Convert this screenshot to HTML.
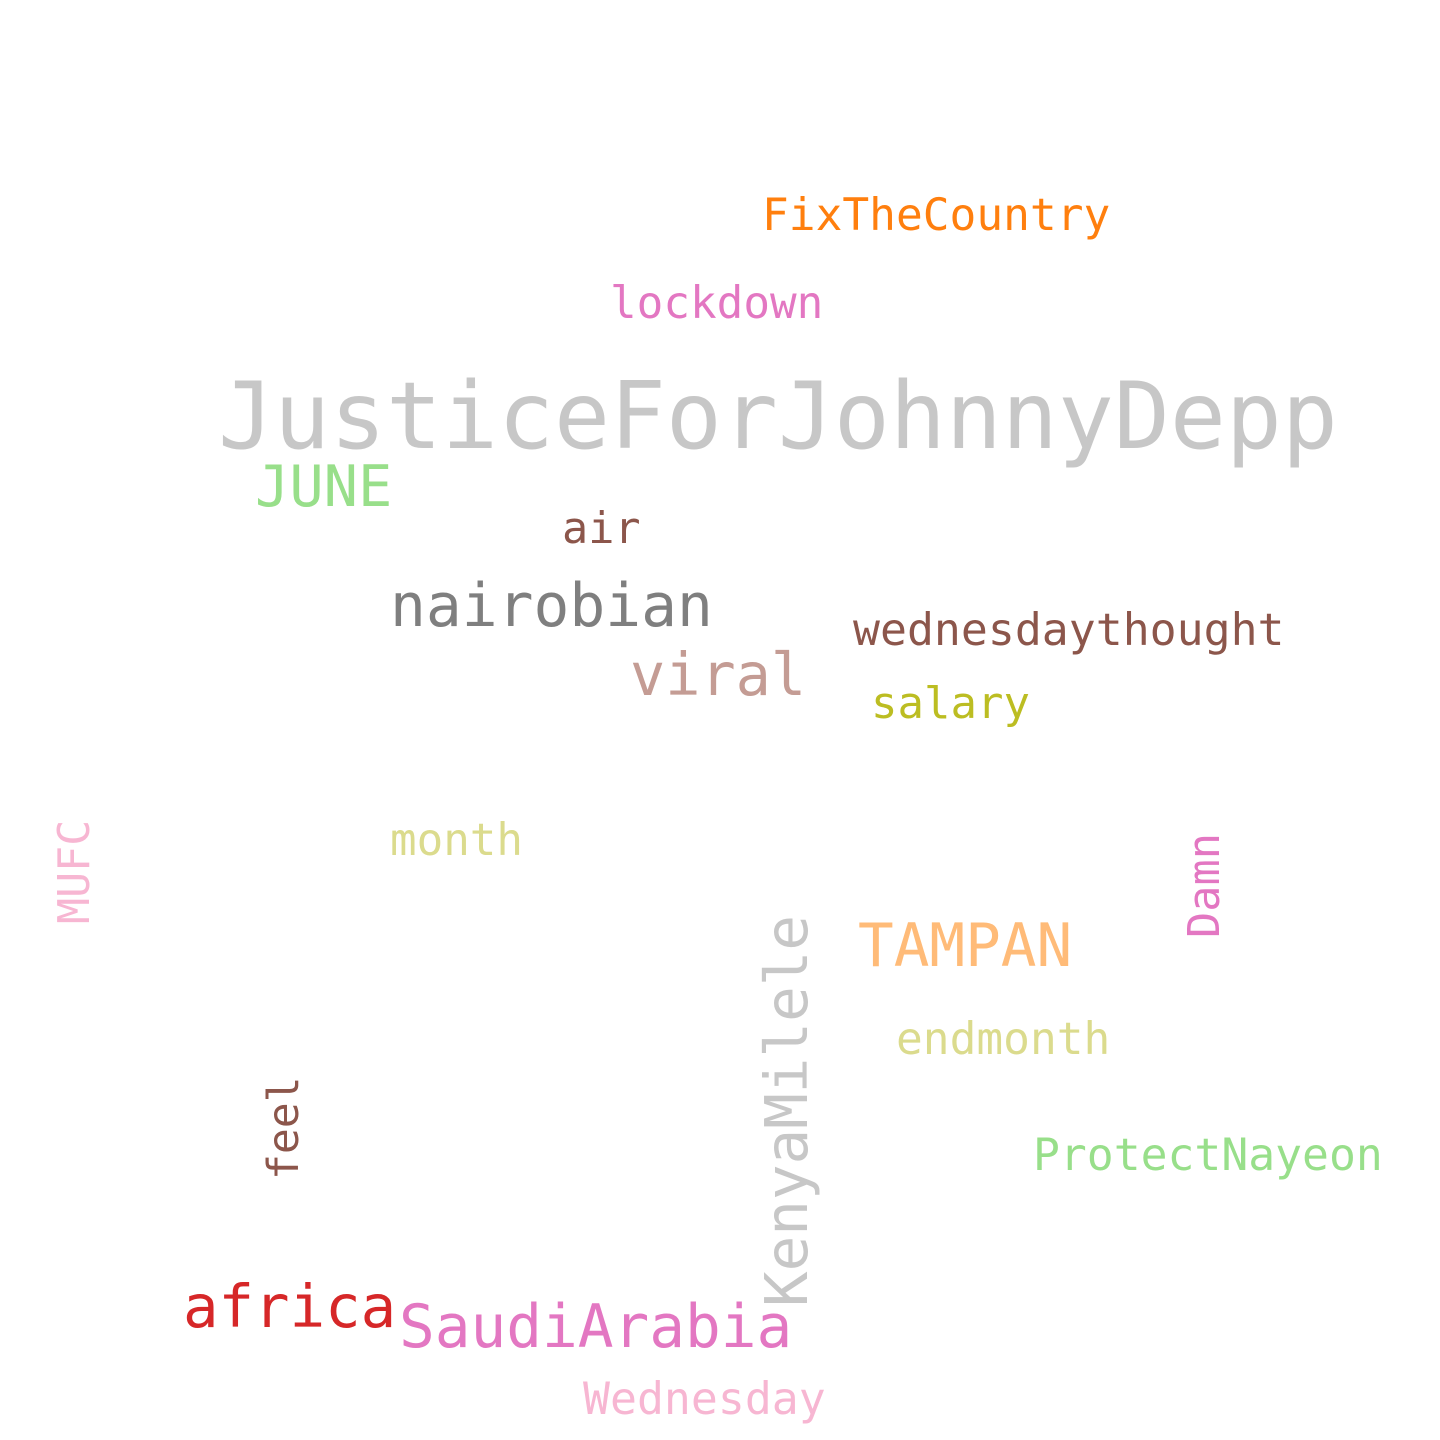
<!DOCTYPE html>
<html>
<head>
<meta charset="utf-8">
<style>
html,body{margin:0;padding:0;background:#fff;}
svg{display:block;}
text{font-family:"DejaVu Sans Mono","Liberation Mono",monospace;}
</style>
</head>
<body>
<svg id="cloud" width="1440" height="1440" viewBox="0 0 1440 1440" xmlns="http://www.w3.org/2000/svg">
<rect width="1440" height="1440" fill="#ffffff"/>
</svg>
<script>
const words = ["JusticeForJohnnyDepp","FixTheCountry","lockdown","JUNE","air","nairobian","wednesdaythought","viral","salary","month","MUFC","Damn","TAMPAN","KenyaMilele","endmonth","feel","ProtectNayeon","africa","SaudiArabia","Wednesday"];
const sizes = [93,44.5,44.3,57,43.5,59.6,44.8,58.5,44,44.2,43.3,43.6,59.3,59.2,44.5,43,44.7,59,59.4,44.8];
const colors = ["#c7c7c7","#ff7f0e","#e377c2","#98df8a","#8c564b","#7f7f7f","#8c564b","#c49c94","#bcbd22","#dbdb8d","#f7b6d2","#e377c2","#ffbb78","#c7c7c7","#dbdb8d","#8c564b","#98df8a","#d62728","#e377c2","#f7b6d2"];
const xs = [218,762,610,255,562,390,853,630,871,390,89,1219,858,807,896,298,1033,183,399,583];
const ys = [448,230,318,506,543,626,645,695,718,855,924,938,966,1307,1054,1180,1170,1327,1347,1414];
const vertical = [0,0,0,0,0,0,0,0,0,0,1,1,0,1,0,1,0,0,0,0];
const svg = document.getElementById('cloud');
const NS = "http://www.w3.org/2000/svg";
for (let i = 0; i < words.length; i++) {
  const t = document.createElementNS(NS, 'text');
  
  
  t.setAttribute('x', xs[i]);
  t.setAttribute('y', ys[i]);
  t.setAttribute('font-size', sizes[i]);
  t.setAttribute('fill', colors[i]);
  if (vertical[i]) t.setAttribute('transform', 'rotate(-90 ' + xs[i] + ' ' + ys[i] + ')');
  t.textContent = words[i];
  svg.appendChild(t);
}
</script>
</body>
</html>
